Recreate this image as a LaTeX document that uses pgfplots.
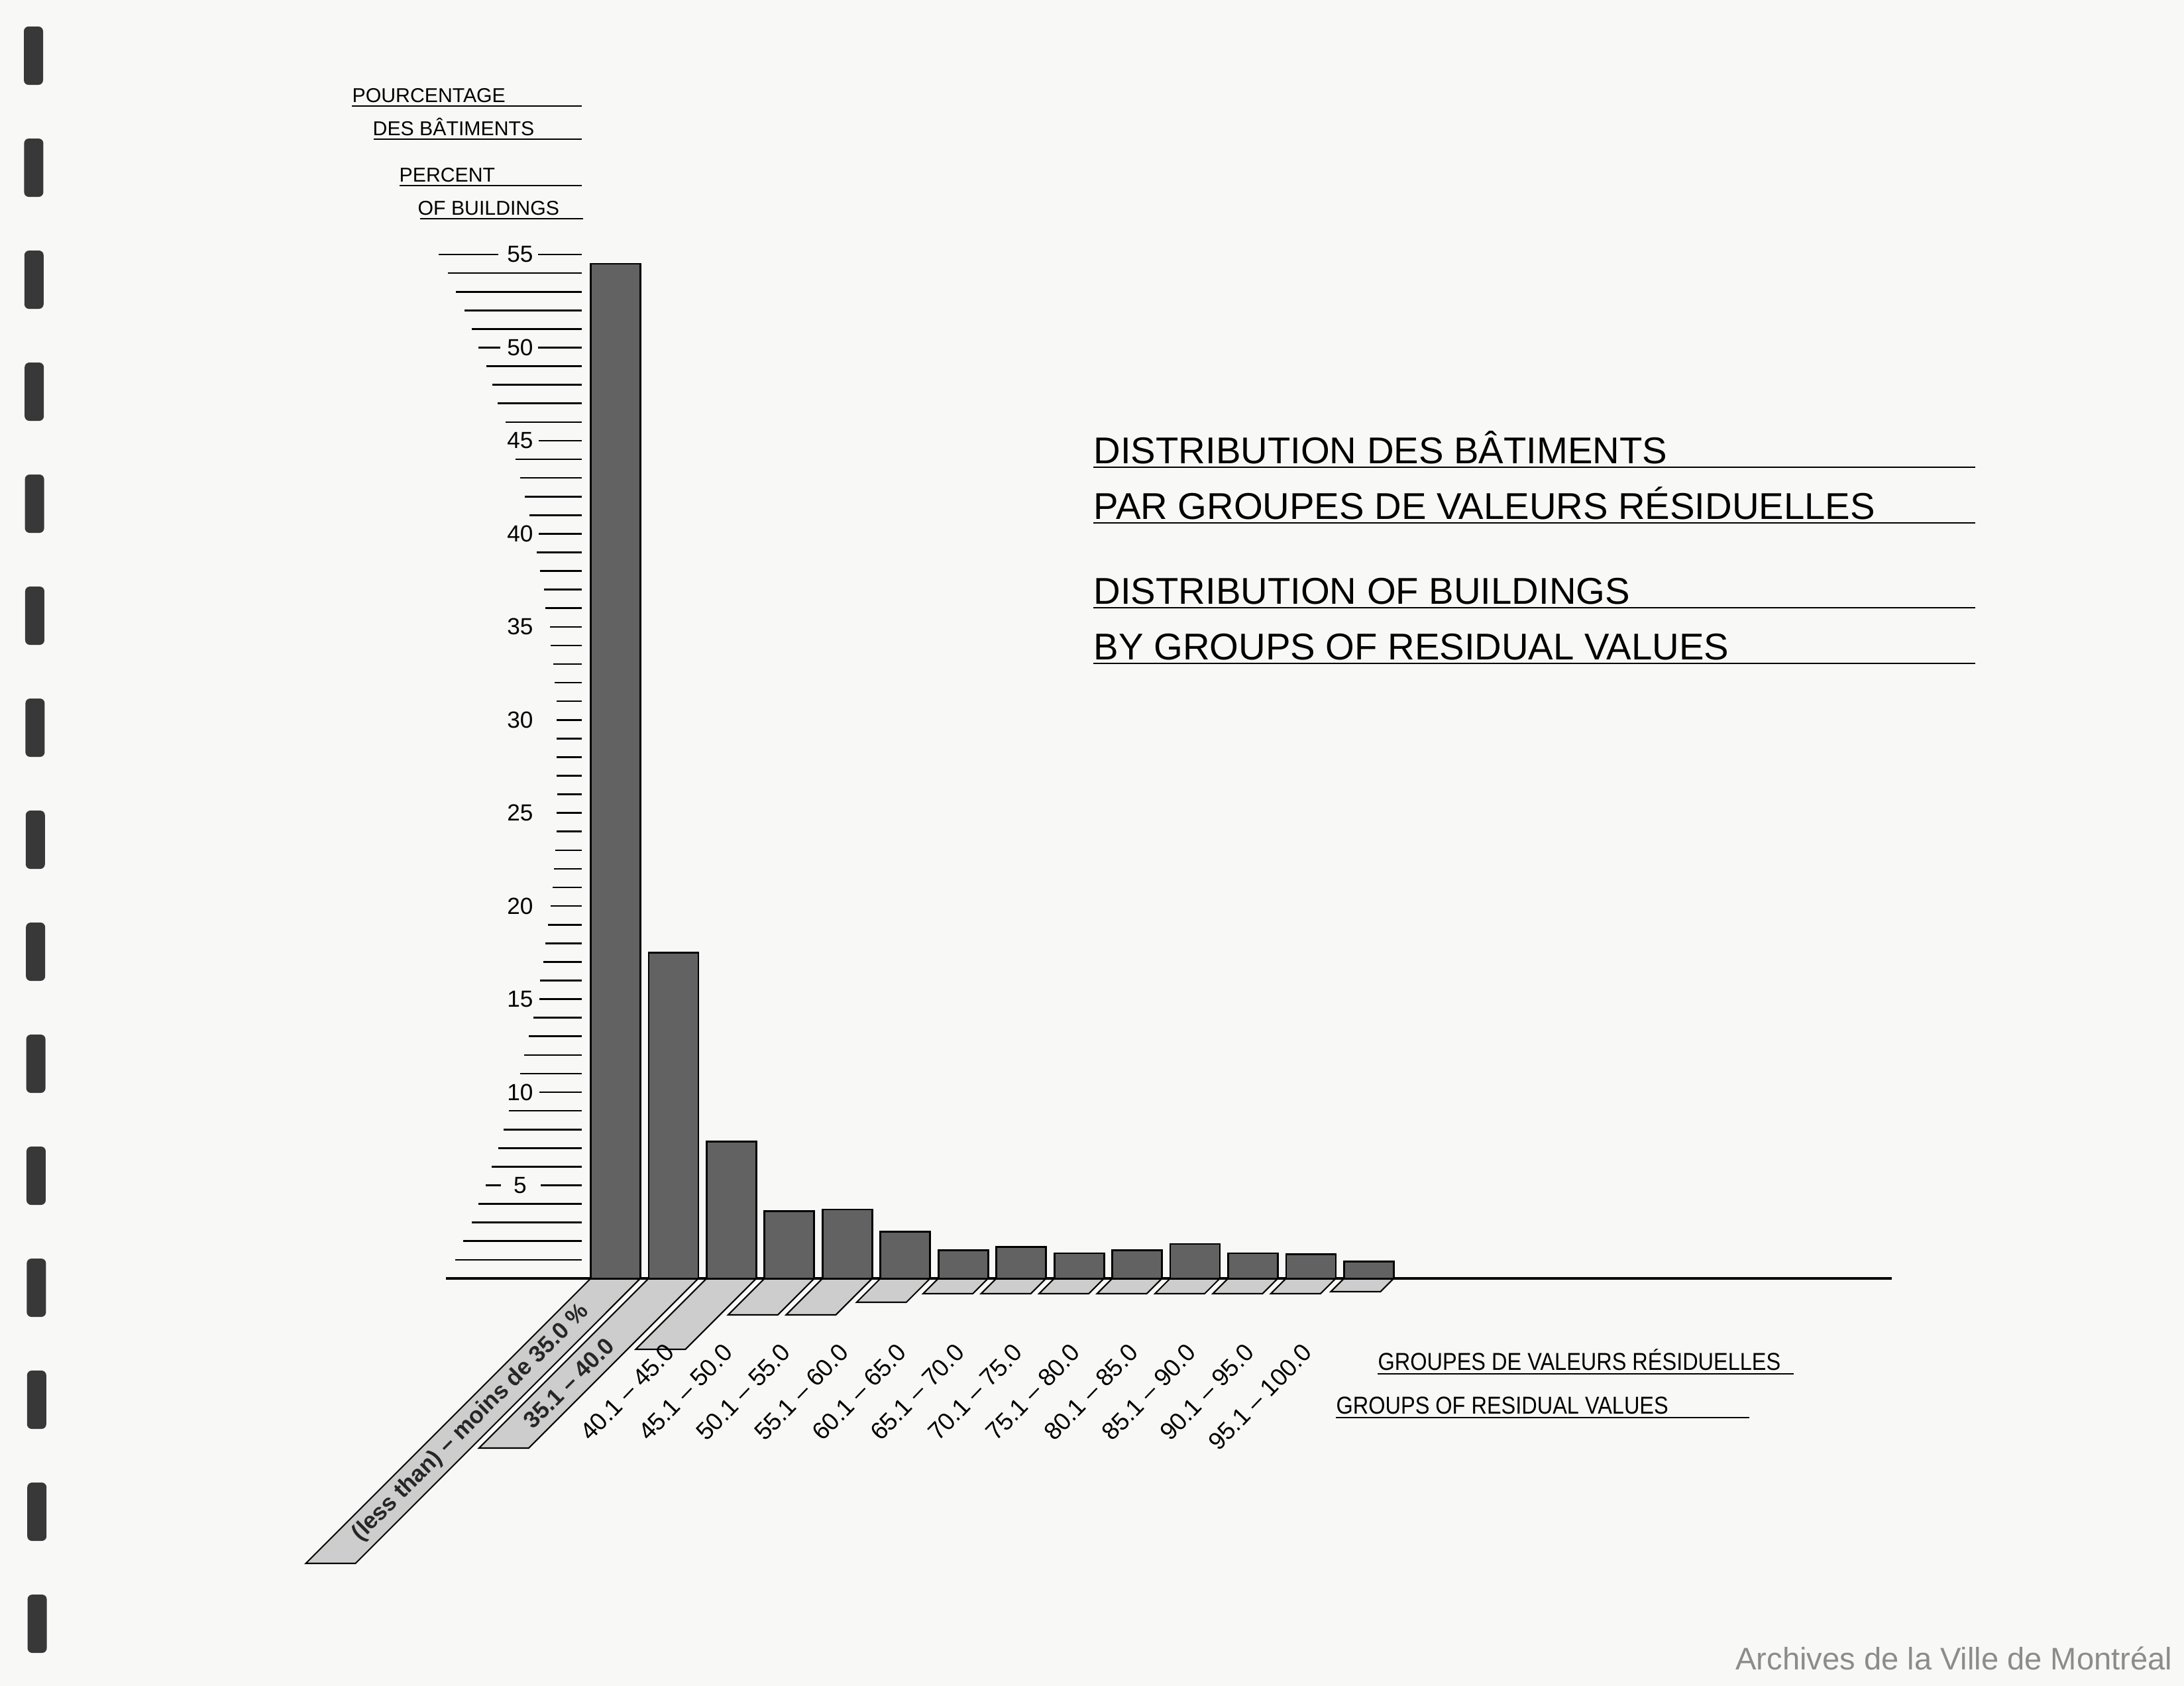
\documentclass[border=0pt]{standalone}
\usepackage{fontspec}
\setmainfont{Liberation Sans}
\usepackage{pgfplots}
\pgfplotsset{compat=1.18}

\definecolor{barfill}{RGB}{98,98,98}
\definecolor{hatch}{RGB}{205,205,205}
\definecolor{paper}{RGB}{248,248,246}

\newcommand\fs[1]{\fontsize{#1}{#1}\selectfont}

\tikzset{
  tickline/.style={line width=0.75pt, black},
  para/.style={draw=black, fill=hatch, line width=0.6pt},
  uline/.style={line width=0.8pt, black},
}

% y scale: plain tick (value, left end in axis x units)
\newcommand\tk[2]{\draw[tickline] (axis cs:#2,#1) -- (axis cs:-0.583,#1);}
% labelled tick (value, label, start of the right segment)
\newcommand\tl[3]{%
  \draw[tickline] (axis cs:#3,#1) -- (axis cs:-0.583,#1);
  \node[font=\fs{10pt}, inner sep=0pt] at (axis cs:-1.647,#1) {#2};}
% slanted base under a bar (index, depth in px)
\newcommand\para[2]{%
  \pgfmathsetmacro\pa{#1-0.4288}%
  \pgfmathsetmacro\pb{#1+0.4288}%
  \pgfmathsetmacro\pc{\pb-#2/87.45}%
  \pgfmathsetmacro\pd{\pa-#2/87.45}%
  \pgfmathsetmacro\pe{-#2/28.09}%
  \edef\temp{\noexpand\draw[para] (axis cs:\pa,0) -- (axis cs:\pb,0) -- (axis cs:\pc,\pe) -- (axis cs:\pd,\pe) -- cycle;}%
  \temp}

\begin{document}
\begin{tikzpicture}[x=1cm, y=1cm]
\fill[paper] (0,0) rectangle (32.96,25.44);

% binding holes along the left edge
\foreach \k in {0,...,14} {
  \pgfmathsetmacro\yc{(2544-(40+80.4*\k)*2.102)/100}
  \pgfmathsetmacro\xl{0.36+0.004*\k}
  \fill[black!78, rounded corners=2pt] (\xl,\yc-0.44) rectangle (\xl+0.29,\yc+0.44);
}

\begin{axis}[
    anchor=origin, at={(9.29cm,6.15cm)},
    x=0.8745cm, y=0.2809cm,
    xmin=-3.2, xmax=22.2, ymin=0, ymax=56,
    hide axis, clip=false,
]
% slanted category bases
\para{0}{430}
\para{1}{256}
\para{2}{107}
\para{3}{55}
\para{4}{55}
\para{5}{36}
\para{6}{23}
\para{7}{23}
\para{8}{23}
\para{9}{23}
\para{10}{23}
\para{11}{23}
\para{12}{23}
\para{13}{20}

% base line
\draw[line width=1.3pt] (axis cs:-2.927,0) -- (axis cs:22.02,0);

% bars
\addplot[ybar, bar width=0.75cm, bar shift=0pt, fill=barfill, draw=black, line width=0.8pt]
coordinates {
  (0,54.5) (1,17.5) (2,7.35) (3,3.6) (4,3.7) (5,2.5) (6,1.5)
  (7,1.7) (8,1.35) (9,1.5) (10,1.85) (11,1.35) (12,1.3) (13,0.9)
};

% y scale
\tk{1}{-2.767} \tk{2}{-2.630} \tk{3}{-2.481} \tk{4}{-2.367}
\tl{5}{5}{-1.292} \draw[tickline] (axis cs:-2.241,5) -- (axis cs:-1.978,5);
\tk{6}{-2.138} \tk{7}{-2.024} \tk{8}{-1.933} \tk{9}{-1.841}
\tl{10}{10}{-1.315}
\tk{11}{-1.647} \tk{12}{-1.578} \tk{13}{-1.498} \tk{14}{-1.418}
\tl{15}{15}{-1.315}
\tk{16}{-1.304} \tk{17}{-1.246} \tk{18}{-1.212} \tk{19}{-1.166}
\tl{20}{20}{-1.121}
\tk{21}{-1.086} \tk{22}{-1.063} \tk{23}{-1.041} \tk{24}{-1.018}
\tl{25}{25}{-1.018}
\tk{26}{-1.006} \tk{27}{-1.018} \tk{28}{-1.018} \tk{29}{-1.018}
\tl{30}{30}{-1.018}
\tk{31}{-1.018} \tk{32}{-1.052} \tk{33}{-1.075} \tk{34}{-1.121}
\tl{35}{35}{-1.132}
\tk{36}{-1.212} \tk{37}{-1.235} \tk{38}{-1.304} \tk{39}{-1.361}
\tl{40}{40}{-1.326}
\tk{41}{-1.487} \tk{42}{-1.567} \tk{43}{-1.647} \tk{44}{-1.727}
\tl{45}{45}{-1.326}
\tk{46}{-1.898} \tk{47}{-2.035} \tk{48}{-2.127} \tk{49}{-2.230}
\tl{50}{50}{-1.338} \draw[tickline] (axis cs:-2.367,50) -- (axis cs:-1.990,50);
\tk{51}{-2.481} \tk{52}{-2.607} \tk{53}{-2.756} \tk{54}{-2.893}
\tl{55}{55}{-1.338} \draw[tickline] (axis cs:-3.053,55) -- (axis cs:-2.024,55);

% category names
\node[rotate=45, font=\bfseries\fs{10pt}, text=black!85] at (axis cs:-2.493,-7.761) {(less than) -- moins de 35.0 \%};
\node[rotate=45, font=\bfseries\fs{10pt}, text=black!85] at (axis cs:-0.807,-5.625) {35.1 -- 40.0};
\pgfplotsinvokeforeach{2,...,13}{
  \pgfmathtruncatemacro\lo{30+5*#1}
  \pgfmathtruncatemacro\hi{35+5*#1}
  \edef\temp{\noexpand\node[rotate=46, anchor=east, inner sep=0pt, font=\noexpand\fs{10.5pt}]
    at (axis cs:#1-1.058,-3.73) {\lo.1 -- \hi.0};}
  \temp
}
\end{axis}

% axis captions
\node[anchor=base west, inner sep=0pt, font=\fs{8.6pt}] at (5.31,23.89) {POURCENTAGE};
\draw[uline] (5.31,23.84) -- (8.78,23.84);
\node[anchor=base west, inner sep=0pt, font=\fs{8.6pt}] at (5.62,23.39) {DES BÂTIMENTS};
\draw[uline] (5.64,23.34) -- (8.78,23.34);
\node[anchor=base west, inner sep=0pt, font=\fs{8.6pt}] at (6.02,22.69) {PERCENT};
\draw[uline] (6.03,22.64) -- (8.78,22.64);
\node[anchor=base west, inner sep=0pt, font=\fs{8.6pt}] at (6.30,22.19) {OF BUILDINGS};
\draw[uline] (6.34,22.14) -- (8.80,22.14);

\node[anchor=base west, inner sep=0pt, font=\fs{10.5pt}] at (20.79,4.76) {\scalebox{0.88}[1]{GROUPES DE VALEURS RÉSIDUELLES}};
\draw[uline] (20.79,4.71) -- (27.07,4.71);
\node[anchor=base west, inner sep=0pt, font=\fs{10.5pt}] at (20.16,4.10) {\scalebox{0.88}[1]{GROUPS OF RESIDUAL VALUES}};
\draw[uline] (20.16,4.05) -- (26.40,4.05);

% title
\node[anchor=base west, inner sep=0pt, font=\fs{16pt}] at (16.50,18.44) {DISTRIBUTION DES BÂTIMENTS};
\draw[uline] (16.50,18.39) -- (29.81,18.39);
\node[anchor=base west, inner sep=0pt, font=\fs{16pt}] at (16.50,17.60) {PAR GROUPES DE VALEURS RÉSIDUELLES};
\draw[uline] (16.50,17.55) -- (29.81,17.55);
\node[anchor=base west, inner sep=0pt, font=\fs{16pt}] at (16.50,16.32) {DISTRIBUTION OF BUILDINGS};
\draw[uline] (16.50,16.27) -- (29.81,16.27);
\node[anchor=base west, inner sep=0pt, font=\fs{16pt}] at (16.50,15.48) {BY GROUPS OF RESIDUAL VALUES};
\draw[uline] (16.50,15.43) -- (29.81,15.43);

% archive credit
\node[anchor=base east, inner sep=0pt, font=\fs{13.4pt}, text=black!45] at (32.79,0.24) {Archives de la Ville de Montréal};

\pgfresetboundingbox
\useasboundingbox (0,0) rectangle (32.96,25.44);
\end{tikzpicture}
\end{document}
